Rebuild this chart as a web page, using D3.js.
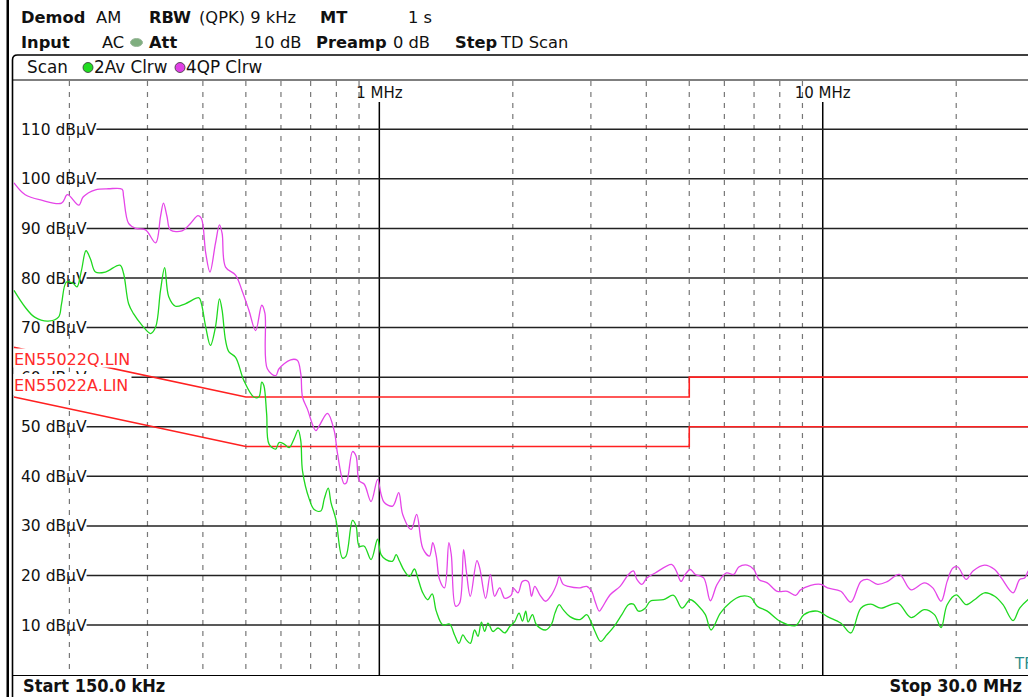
<!DOCTYPE html>
<html><head><meta charset="utf-8">
<script src="https://cdn.jsdelivr.net/npm/d3@7/dist/d3.min.js"></script>
<style>
html,body{margin:0;padding:0;background:#fff;overflow:hidden}
svg{display:block}
text{font-family:"DejaVu Sans",Verdana,sans-serif}
</style></head><body>
<svg id="c" width="1028" height="697"></svg>
<script>
// ---------- data ----------
const qpFreqMHz = [0.150,0.159,0.173,0.192,0.198,0.210,0.215,0.229,0.245,0.263,0.265,0.272,0.282,0.297,0.313,0.321,0.326,0.332,0.338,0.359,0.375,0.390,0.397,0.406,0.415,0.427,0.436,0.442,0.450,0.474,0.490,0.508,0.526,0.543,0.552,0.559,0.584,0.594,0.631,0.653,0.665,0.671,0.688,0.719,0.732,0.764,0.791,0.805,0.833,0.843,0.870,0.886,0.901,0.925,0.958,0.991,1.009,1.026,1.072,1.106,1.129,1.180,1.214,1.253,1.297,1.320,1.344,1.367,1.403,1.435,1.453,1.486,1.517,1.549,1.571,1.604,1.660,1.684,1.737,1.780,1.820,1.868,1.918,1.986,2.003,2.055,2.103,2.165,2.204,2.242,2.301,2.371,2.446,2.511,2.545,2.598,2.667,2.836,2.935,3.013,3.065,3.134,3.174,3.315,3.491,3.646,3.742,3.809,3.910,4.013,4.190,4.571,4.674,4.790,4.898,5.027,5.160,5.388,5.580,5.778,6.064,6.300,6.466,6.755,6.993,7.177,7.498,7.898,8.320,8.688,8.917,9.395,9.897,10.25,10.98,11.57,12.19,12.62,13.30,14.01,14.88,15.82,16.95,17.71,18.49,19.08,19.66,20.17,21.06,21.82,23.17,24.42,25.28,26.87,27.81,28.54,29.14,30.0];
const qpLevel = [99.2,96.8,95.7,95.1,96.8,94.7,96.4,97.8,98.0,97.9,96.4,91.0,90.0,89.7,87.1,92.4,95.1,92.4,89.7,89.5,91.0,92.6,92.0,85.0,81.2,87.0,90.7,89.0,82.2,80.6,77.5,73.5,69.4,74.5,72.9,61.7,60.3,61.7,63.5,63.4,60.7,56.0,53.6,49.2,50.2,52.7,49.2,44.5,38.5,38.7,45.0,44.1,39.1,38.4,34.9,39.4,36.4,34.7,34.0,36.7,32.3,29.3,32.3,25.5,23.9,26.6,23.9,19.2,17.5,26.6,24.2,13.8,14.4,25.2,20.9,15.8,23.0,21.5,15.4,20.2,15.8,17.5,15.4,16.1,17.5,16.5,18.8,18.8,15.8,17.8,16.1,14.8,16.1,18.2,19.8,18.2,17.8,17.5,17.8,16.8,14.8,12.8,13.4,16.1,17.8,20.2,20.9,19.2,18.2,19.5,20.5,22.2,20.9,18.8,20.2,21.2,20.2,19.5,14.9,18.2,20.5,20.2,21.7,22.1,21.2,19.2,18.5,16.8,16.8,16.0,17.1,18.0,18.2,17.5,16.8,14.6,18.8,19.2,18.2,18.8,20.2,17.1,18.5,17.5,14.8,18.8,21.5,21.7,19.2,20.9,22.1,21.2,19.5,16.5,19.2,19.5,21.0,21.5];

const avFreqMHz = [0.150,0.159,0.167,0.179,0.189,0.192,0.197,0.204,0.208,0.213,0.218,0.223,0.229,0.241,0.260,0.265,0.272,0.279,0.292,0.305,0.313,0.321,0.328,0.335,0.347,0.365,0.392,0.397,0.406,0.416,0.427,0.436,0.442,0.450,0.458,0.474,0.495,0.521,0.535,0.543,0.549,0.557,0.564,0.584,0.594,0.610,0.626,0.642,0.656,0.665,0.671,0.695,0.713,0.738,0.751,0.767,0.778,0.798,0.826,0.841,0.870,0.886,0.901,0.925,0.958,0.991,1.009,1.035,1.072,1.091,1.110,1.139,1.169,1.200,1.221,1.253,1.286,1.316,1.344,1.391,1.440,1.478,1.512,1.543,1.571,1.604,1.640,1.669,1.699,1.728,1.758,1.804,1.852,1.918,1.968,2.020,2.066,2.103,2.139,2.165,2.215,2.262,2.371,2.446,2.489,2.545,2.598,2.691,2.836,2.935,2.987,3.065,3.157,3.258,3.402,3.523,3.646,3.742,3.840,3.977,4.083,4.375,4.609,4.815,5.027,5.251,5.436,5.600,5.877,6.194,6.525,6.873,7.117,7.498,8.035,8.688,9.073,9.727,10.25,10.98,11.57,12.19,12.84,13.53,14.76,15.82,16.95,17.86,18.49,19.08,20.00,21.06,21.99,23.17,24.42,25.50,26.87,27.81,29.29,30.0];
const avLevel = [77.5,74.1,72.1,71.3,72.1,74.8,79.2,78.9,78.2,81.6,85.5,83.9,81.2,81.2,82.6,80.9,74.8,72.8,70.4,68.8,70.1,77.5,82.1,76.2,74.3,74.8,76.0,74.8,70.1,66.4,70.1,75.8,73.5,67.4,65.1,64.0,59.3,56.0,56.0,59.0,58.3,52.6,46.5,45.5,46.8,46.5,45.8,47.5,49.3,47.2,41.1,35.4,33.3,33.0,35.4,37.6,34.7,31.3,23.5,23.9,31.1,30.0,25.9,25.9,23.2,27.3,24.2,23.2,22.9,24.2,22.9,20.9,19.8,21.3,19.5,16.5,15.1,16.3,12.8,10.0,10.2,8.0,6.3,8.0,7.0,6.3,9.0,7.7,10.6,8.7,10.4,8.7,9.4,8.4,9.7,10.7,12.4,10.8,12.8,10.6,12.1,10.0,9.0,10.2,12.4,14.1,13.1,11.7,11.1,12.1,11.1,8.7,6.7,8.0,10.0,12.1,14.1,14.2,12.8,13.4,14.8,15.1,16.0,13.4,15.1,13.8,12.1,9.0,12.4,14.6,15.8,15.6,13.8,12.8,10.7,9.9,12.1,12.8,11.7,10.4,8.4,13.4,14.2,13.4,14.4,11.5,13.1,12.1,9.5,14.1,16.1,14.1,15.1,16.5,15.8,14.1,10.9,13.4,15.4,16.0];

const limQFreqMHz = [0.15,0.5,5,5,30];
const limQLevel = [66,56,56,60,60];
const limAFreqMHz = [0.15,0.5,5,5,30];
const limALevel = [56,46,46,50,50];

const yTickValues = [10,20,30,40,50,60,70,80,90,100,110];
const yTickLabels = yTickValues.map(v => v + " dB\u00B5V");
const xMajorMHz = [1,10];
const xMajorLabels = ["1 MHz","10 MHz"];
const xMinorMHz = [0.2,0.3,0.4,0.5,0.6,0.7,0.8,0.9,2,3,4,5,6,7,8,9,20];

// ---------- layout ----------
const svg = d3.select("#c");
const W = 1028, H = 697;
const plotTop = 80, plotBottom = 675;
const x = d3.scaleLog().domain([0.15, 30]).range([14, 1034.3]);
const y = d3.scaleLinear().domain([0, 120]).range([674.6, 79.7]);

// header
const hdr = svg.append("g").style("font-size", "16.3px").attr("fill", "#111");
const row1 = [["Demod",21,true],["AM",96,false],["RBW",149,true],["(QPK) 9 kHz",199,false],["MT",320,true],["1 s",408,false]];
const row2 = [["Input",21,true],["AC",102,false],["Att",149,true],["10 dB",254,false],["Preamp",316,true],["0 dB",393,false],["Step",455,true],["TD Scan",501,false]];
row1.forEach(([t,px,b]) => hdr.append("text").attr("x",px).attr("y",23).attr("font-weight",b?"bold":"normal").text(t));
row2.forEach(([t,px,b]) => hdr.append("text").attr("x",px).attr("y",48).attr("font-weight",b?"bold":"normal").text(t));
svg.append("ellipse").attr("cx",136.5).attr("cy",42.5).attr("rx",6).attr("ry",4).attr("fill","#7fae7f").attr("stroke","#9ab89a");

// outer lines / frame
svg.append("rect").attr("x",6.5).attr("y",0).attr("width",2.5).attr("height",H).attr("fill","#000");
svg.append("path").attr("d","M12.5,697 L12.5,60 Q12.5,55 17.5,55 L1030,55").attr("fill","none").attr("stroke","#000").attr("stroke-width",1.6);
svg.append("line").attr("x1",12.5).attr("x2",W).attr("y1",80).attr("y2",80).attr("stroke","#000").attr("stroke-width",1.2);
svg.append("line").attr("x1",12.5).attr("x2",W).attr("y1",675.5).attr("y2",675.5).attr("stroke","#000").attr("stroke-width",1.2);

// trace legend row
const lg = svg.append("g").style("font-size","16.8px").attr("fill","#111");
lg.append("text").attr("x",27).attr("y",73).text("Scan");
lg.append("circle").attr("cx",88).attr("cy",67.5).attr("r",5).attr("fill","#22dd22").attr("stroke","#333").attr("stroke-width",0.8);
lg.append("text").attr("x",94).attr("y",73).text("2Av Clrw");
lg.append("circle").attr("cx",180).attr("cy",67.5).attr("r",5).attr("fill","#e040e6").attr("stroke","#333").attr("stroke-width",0.8);
lg.append("text").attr("x",186).attr("y",73).text("4QP Clrw");

// grid
const grid = svg.append("g");
grid.selectAll("line.minor").data(xMinorMHz).join("line")
  .attr("x1",d=>x(d)).attr("x2",d=>x(d)).attr("y1",plotTop+1).attr("y2",plotBottom)
  .attr("stroke","#777").attr("stroke-width",1.2).attr("stroke-dasharray","5,6");
grid.selectAll("line.major").data(xMajorMHz).join("line")
  .attr("x1",d=>x(d)).attr("x2",d=>x(d)).attr("y1",102).attr("y2",plotBottom)
  .attr("stroke","#000").attr("stroke-width",1.5);
grid.selectAll("text.xl").data(xMajorMHz).join("text")
  .attr("x",d=>x(d)).attr("y",97.5).attr("text-anchor","middle")
  .style("font-size","15px").attr("fill","#111").text((d,i)=>xMajorLabels[i]);

const yl = svg.append("g");
yTickValues.forEach((v,i) => {
  const t = yl.append("text").attr("x",21).attr("y",y(v)+5.5).style("font-size","15.5px").attr("fill","#111").text(yTickLabels[i]);
  const w = t.node().getComputedTextLength();
  yl.append("line").attr("x1",21+w).attr("x2",W).attr("y1",y(v)).attr("y2",y(v)).attr("stroke","#222").attr("stroke-width",1.5);
});

// clip
svg.append("clipPath").attr("id","pc").append("rect").attr("x",13).attr("y",plotTop).attr("width",1030).attr("height",plotBottom-plotTop);

// limit lines
const line = d3.line().x(d=>x(d[0])).y(d=>y(d[1]));
const smooth = d3.line().x(d=>x(d[0])).y(d=>y(d[1])).curve(d3.curveCatmullRom.alpha(0.5));
const plot = svg.append("g").attr("clip-path","url(#pc)");
plot.append("path").datum(d3.zip(limQFreqMHz,limQLevel)).attr("d",line).attr("fill","none").attr("stroke","#ff2020").attr("stroke-width",1.6);
plot.append("path").datum(d3.zip(limAFreqMHz,limALevel)).attr("d",line).attr("fill","none").attr("stroke","#ff2020").attr("stroke-width",1.6);

// traces
plot.append("path").datum(d3.zip(avFreqMHz,avLevel)).attr("d",smooth).attr("fill","none").attr("stroke","#1fd81f").attr("stroke-width",1.3).attr("stroke-linejoin","round");
plot.append("path").datum(d3.zip(qpFreqMHz,qpLevel)).attr("d",smooth).attr("fill","none").attr("stroke","#e545e8").attr("stroke-width",1.3).attr("stroke-linejoin","round");

// limit labels
const ll = svg.append("g");
ll.append("rect").attr("x",13.5).attr("y",348.5).attr("width",119).attr("height",19).attr("fill","#fff");
ll.append("rect").attr("x",13.5).attr("y",374).attr("width",118).attr("height",21).attr("fill","#fff");
ll.append("text").attr("x",14).attr("y",365).style("font-size","16px").attr("fill","#ff2a2a").text("EN55022Q.LIN");
ll.append("text").attr("x",14).attr("y",391).style("font-size","16px").attr("fill","#ff2a2a").text("EN55022A.LIN");

// bottom bar
const bb = svg.append("g").style("font-family","'DejaVu Sans Condensed','DejaVu Sans',sans-serif").style("font-stretch","condensed").style("font-weight","bold").style("font-size","18px").attr("fill","#111");
bb.append("text").attr("x",23).attr("y",692).text("Start 150.0 kHz");
bb.append("text").attr("x",1022).attr("y",692).attr("text-anchor","end").text("Stop 30.0 MHz");
svg.append("text").attr("x",1015).attr("y",669).style("font-size","15px").attr("fill","#2b8c8c").text("TF");
</script></body></html>
